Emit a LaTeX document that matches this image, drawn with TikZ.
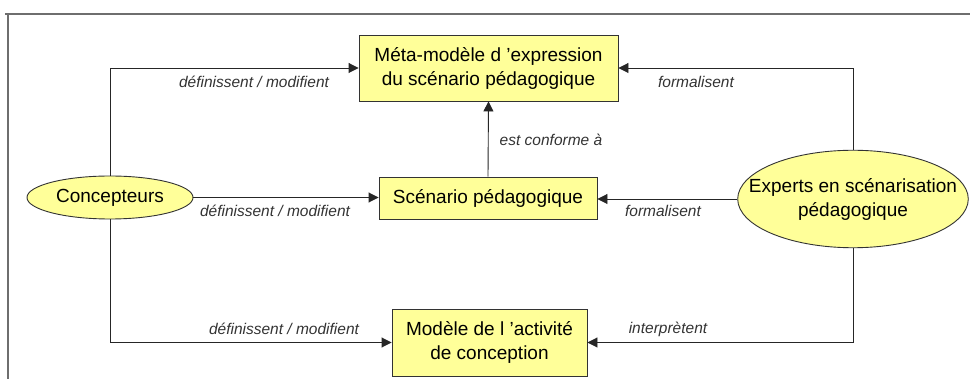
\documentclass[tikz,border=0pt]{standalone}
\usepackage{fontspec}
\setmainfont{Liberation Sans}
\usetikzlibrary{shapes.geometric,arrows.meta}
\definecolor{boxfill}{HTML}{FFFF99}
\definecolor{framegray}{HTML}{6E6E6E}
\definecolor{labelgray}{HTML}{333333}
\tikzset{
  box/.style={draw=black!80, fill=boxfill, line width=0.9pt, inner sep=0pt, align=center,
    font=\fontsize{19}{24}\selectfont},
  oval/.style={ellipse, draw=black!80, fill=boxfill, line width=0.9pt, inner sep=0pt, align=center,
    font=\fontsize{19}{24}\selectfont},
  lbl/.style={font=\fontsize{15.5}{18}\selectfont\itshape, text=labelgray, inner sep=0pt},
  arr/.style={draw=black!85, line width=0.9pt, -{Triangle[length=10pt,width=10pt]}},
  frameline/.style={draw=framegray, line width=1.3pt}
}
\begin{document}
\begin{tikzpicture}[x=1pt,y=-1pt]
\useasboundingbox (0,0) rectangle (970,379);
% frame
\coordinate (f1) at (5,14);
\coordinate (f2) at (970,14);
\coordinate (f3) at (8,14);
\coordinate (f4) at (8,379);
\draw[frameline] (f1) -- (f2);
\draw[frameline] (f3) -- (f4);
% nodes
\node[box, minimum width=259pt, minimum height=66pt] (meta) at (488.5,68) {Méta-modèle d 'expression\\du scénario pédagogique};
\node[box, minimum width=218pt, minimum height=42pt] (scen) at (488,198) {Scénario pédagogique};
\node[box, minimum width=195pt, minimum height=67pt] (mod) at (489.5,342.5) {Modèle de l 'activité\\de conception};
\node[oval, minimum width=166pt, minimum height=43pt] (conc) at (110,197.5) {Concepteurs};
\node[oval, inner xsep=-22.5pt, inner ysep=13.5pt] (exp) at (853,199) {Experts en scénarisation\\pédagogique};
% connectors
\draw[arr] (conc.north) |- (meta.west);
\draw[arr] (conc.south) |- (mod.west);
\draw[arr] (conc.east) -- (conc.east -| scen.west);
\draw[arr] (exp.north) |- (meta.east);
\draw[arr] (exp.south) |- (mod.east);
\draw[arr] (exp.west) -- (exp.west -| scen.east);
\draw[arr] (scen.north) -- (meta.south);
% labels
\node[lbl] (l1) at (254,82) {définissent / modifient};
\node[lbl] (l2) at (275,211) {définissent / modifient};
\node[lbl] (l3) at (284,329) {définissent / modifient};
\node[lbl] (l4) at (696,82) {formalisent};
\node[lbl] (l5) at (663,211) {formalisent};
\node[lbl] (l6) at (668,329) {interprètent};
\node[lbl] (l7) at (551,140) {est conforme à};
\end{tikzpicture}
\end{document}
